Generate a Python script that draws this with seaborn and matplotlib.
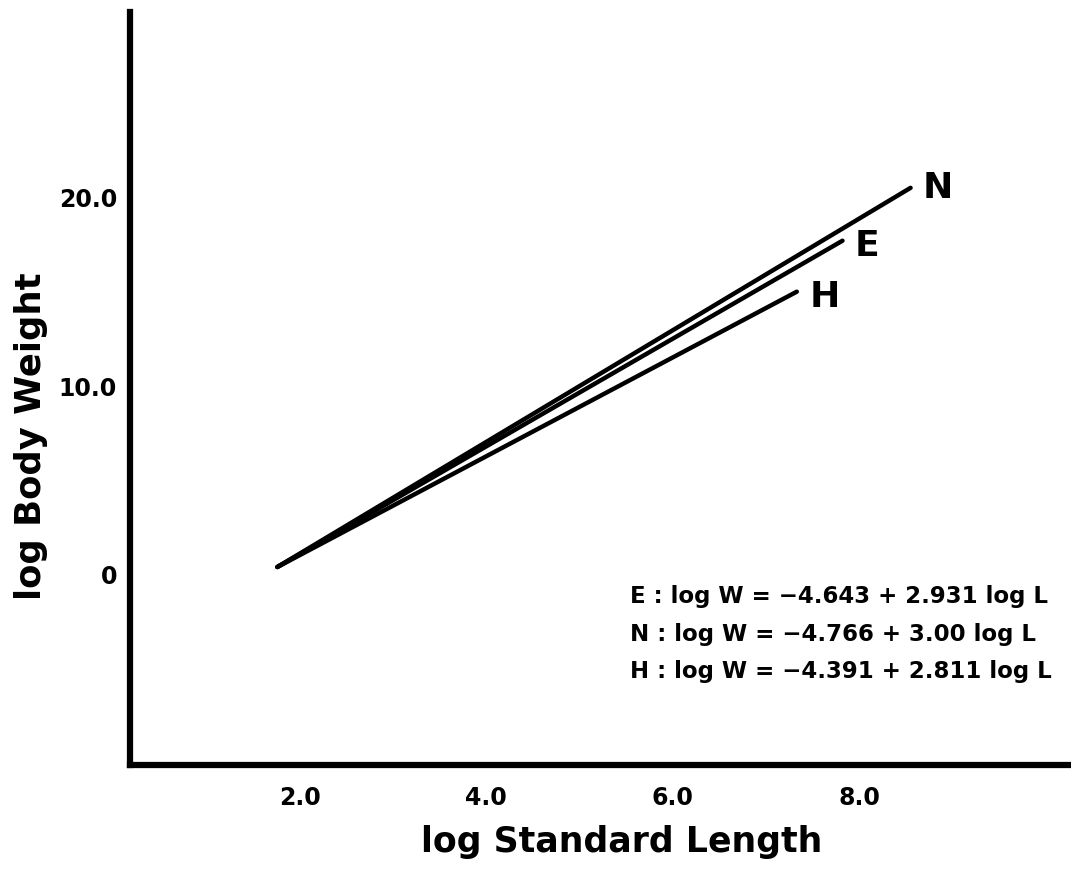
import matplotlib
matplotlib.use("Agg")
import matplotlib.pyplot as plt
import seaborn as sns
import pandas as pd

# Fitted length-weight regressions for the three groups (drawn end points)
groups = ["N", "E", "H"]
start_L = [1.76, 1.76, 1.76]
start_W = [0.42, 0.42, 0.42]
end_L = [8.55, 7.82, 7.33]
end_W = [20.5, 17.7, 15.0]

equations = [
    "E : log W = \u22124.643 + 2.931 log L",
    "N : log W = \u22124.766 + 3.00 log L",
    "H : log W = \u22124.391 + 2.811 log L",
]

x_ticks = [2.0, 4.0, 6.0, 8.0]
x_tick_labels = ["2.0", "4.0", "6.0", "8.0"]
y_ticks = [0, 10, 20]
y_tick_labels = ["0", "10.0", "20.0"]

rows = []
for g, l0, w0, l1, w1 in zip(groups, start_L, start_W, end_L, end_W):
    rows.append({"group": g, "L": l0, "W": w0})
    rows.append({"group": g, "L": l1, "W": w1})
df = pd.DataFrame(rows)

sns.set_theme(style="white")
plt.rcParams["font.family"] = ["DejaVu Sans"]
plt.rcParams["font.weight"] = "bold"

fig = plt.figure(figsize=(10.71, 8.72), dpi=100)
ax = fig.add_axes([0.121, 0.123, 0.879, 0.863])

sns.lineplot(data=df, x="L", y="W", hue="group", units="group",
             estimator=None, sort=False,
             palette={g: "black" for g in groups}, legend=False,
             linewidth=3.2, solid_capstyle="round", ax=ax)

for g, l1, w1, dy in zip(groups, end_L, end_W, [0, -4, -4]):
    ax.annotate(g, xy=(l1, w1), xytext=(9, dy), textcoords="offset points",
                ha="left", va="center", fontsize=26, fontweight="bold",
                color="black")

eq_W = [-1.16, -3.17, -5.13]
for txt, w in zip(equations, eq_W):
    ax.text(5.54, w, txt, ha="left", va="center", fontsize=16.5,
            fontweight="bold", color="black")

ax.set_xlim(0.176, 10.27)
ax.set_ylim(-10.05, 29.8)
ax.set_xticks(x_ticks)
ax.set_xticklabels(x_tick_labels)
ax.set_yticks(y_ticks)
ax.set_yticklabels(y_tick_labels)

ax.tick_params(axis="both", which="major", direction="out", length=8,
               width=2.5, color="black", labelsize=17, labelcolor="black")
ax.tick_params(axis="x", pad=7)
ax.tick_params(axis="y", pad=1)
for lab in ax.get_xticklabels() + ax.get_yticklabels():
    lab.set_fontweight("bold")

for side in ["top", "right"]:
    ax.spines[side].set_visible(False)
for side in ["left", "bottom"]:
    ax.spines[side].set_linewidth(4.5)
    ax.spines[side].set_color("black")

ax.set_xlabel("log Standard Length", fontsize=25, fontweight="bold",
              color="black", va="center")
ax.set_ylabel("log Body Weight", fontsize=25.5, fontweight="bold",
              color="black", va="center")
ax.xaxis.set_label_coords(0.523, -0.102)
ax.yaxis.set_label_coords(-0.105, 0.436)

ax.set_facecolor("white")
fig.patch.set_facecolor("white")
fig.savefig("out.png", dpi=100)
